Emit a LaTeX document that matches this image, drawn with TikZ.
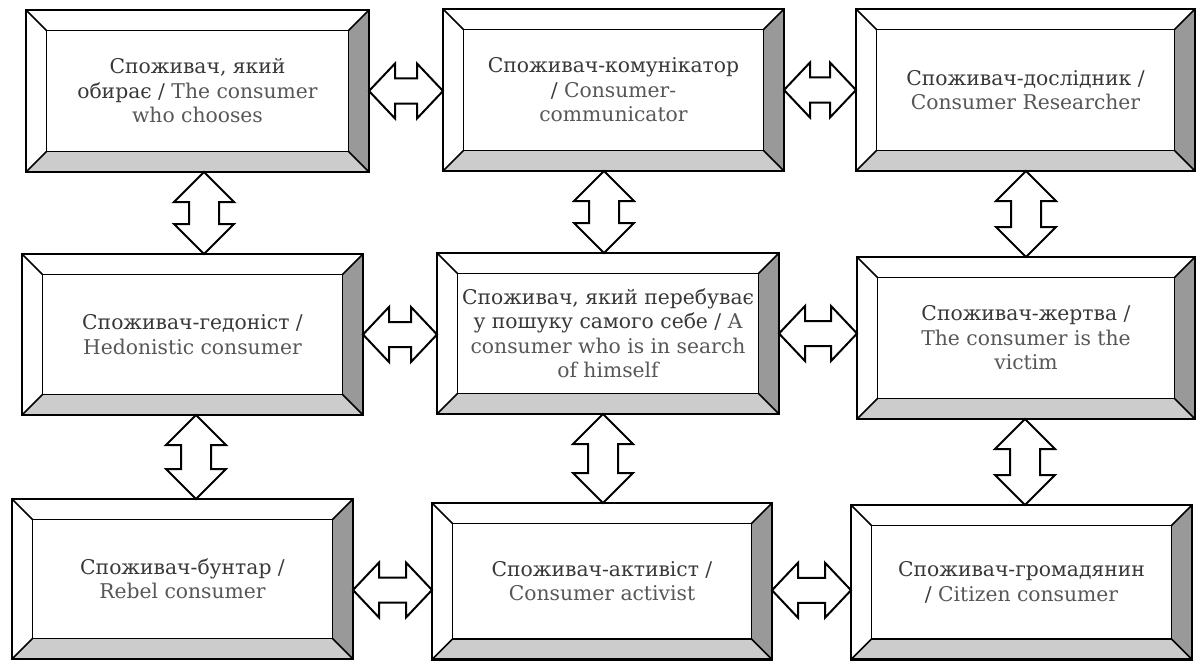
\documentclass[tikz,border=0pt]{standalone}
\usepackage{fontspec}
\setmainfont{DejaVu Serif}
\usetikzlibrary{calc}

\definecolor{uatext}{gray}{0.22}
\definecolor{entext}{gray}{0.34}
\definecolor{rightbevel}{gray}{0.60}
\definecolor{bottombevel}{gray}{0.80}

\newcommand{\en}[1]{\textcolor{entext}{#1}}
\newcommand{\bevw}{20.5pt}

\tikzset{
  frame/.style={inner sep=0pt, outer sep=0pt},
  outerline/.style={draw=black, line width=2.4pt},
  innerline/.style={draw=black, line width=1.9pt},
  diagline/.style={draw=black, line width=1.6pt},
  boxtext/.style={align=center, text=uatext, inner sep=0pt,
    font=\fontsize{20.3}{24.5}\selectfont},
  blockarrow/.style={draw=black, fill=white, line width=2pt, line join=miter},
}

% bevelled frame: name, left, top, right, bottom, text
\newcommand{\bevelbox}[6]{%
  \path node[frame, minimum width={((#4)-(#2))*1pt}, minimum height={((#5)-(#3))*1pt}]
    (#1) at ({((#2)+(#4))/2},{((#3)+(#5))/2}) {};
  \fill[white] (#1.north west) rectangle (#1.south east);
  \fill[rightbevel] (#1.north east) -- (#1.south east)
    -- ($(#1.south east)+(-\bevw,\bevw)$) -- ($(#1.north east)+(-\bevw,-\bevw)$) -- cycle;
  \fill[bottombevel] (#1.south west) -- (#1.south east)
    -- ($(#1.south east)+(-\bevw,\bevw)$) -- ($(#1.south west)+(\bevw,\bevw)$) -- cycle;
  \draw[diagline] (#1.north west) -- ++(\bevw,-\bevw);
  \draw[diagline] (#1.north east) -- ++(-\bevw,-\bevw);
  \draw[diagline] (#1.south west) -- ++(\bevw,\bevw);
  \draw[diagline] (#1.south east) -- ++(-\bevw,\bevw);
  \draw[innerline] ($(#1.north west)+(\bevw,-\bevw)$) rectangle ($(#1.south east)+(-\bevw,\bevw)$);
  \draw[outerline] (#1.north west) rectangle (#1.south east);
  \node[boxtext] (#1-label) at (#1.center) {#6};
}

% horizontal double block arrow: left tip, right tip
\newcommand{\harrow}[2]{%
  \draw[blockarrow] (#1) -- ++(26pt,27.5pt) -- ++(0,-15pt)
    -- ($(#2)+(-26pt,12.5pt)$) -- ++(0,15pt) -- (#2)
    -- ++(-26pt,-27.5pt) -- ++(0,15pt)
    -- ($(#1)+(26pt,-12.5pt)$) -- ++(0,-15pt) -- cycle;
}
% vertical double block arrow: top tip, bottom tip
\newcommand{\varrow}[2]{%
  \draw[blockarrow] (#1) -- ++(30pt,-30pt) -- ++(-15pt,0)
    -- ($(#2)+(15pt,30pt)$) -- ++(15pt,0) -- (#2)
    -- ++(-30pt,30pt) -- ++(15pt,0)
    -- ($(#1)+(-15pt,-30pt)$) -- ++(-15pt,0) -- cycle;
}

\begin{document}
\begin{tikzpicture}[x=1pt, y=-1pt]
  \useasboundingbox (0,0) rectangle (1197,661);
  \clip (0,0) rectangle (1197,661);
  \fill[white] (0,0) rectangle (1197,661);

  % top row
  \bevelbox{chooser}{26}{10}{369}{172}{Споживач, який\\обирає / \en{The consumer}\\\en{who chooses}}
  \bevelbox{communicator}{443}{9}{784}{171}{Споживач-комунікатор\\/ \en{Consumer-}\\\en{communicator}}
  \bevelbox{researcher}{856}{9}{1195}{171}{Споживач-дослідник /\\\en{Consumer Researcher}}
  % middle row
  \bevelbox{hedonist}{22}{254}{363}{415}{Споживач-гедоніст /\\\en{Hedonistic consumer}}
  \bevelbox{seeker}{437}{253}{779}{414}{Споживач, який перебуває\\у пошуку самого себе / \en{A}\\\en{consumer who is in search}\\\en{of himself}}
  \bevelbox{victim}{857}{257}{1195}{419}{Споживач-жертва /\\\en{The consumer is the}\\\en{victim}}
  % bottom row
  \bevelbox{rebel}{12}{499}{353}{659}{Споживач-бунтар /\\\en{Rebel consumer}}
  \bevelbox{activist}{432}{503}{772}{659.5}{Споживач-активіст /\\\en{Consumer activist}}
  \bevelbox{citizen}{851}{505}{1192}{659.5}{Споживач-громадянин\\/ \en{Citizen consumer}}

  % horizontal links
  \harrow{chooser.east}{communicator.west |- chooser.east}
  \harrow{communicator.east}{researcher.west |- communicator.east}
  \harrow{hedonist.east}{seeker.west |- hedonist.east}
  \harrow{seeker.east}{victim.west |- seeker.east}
  \coordinate (rebel-link) at ($(rebel.east)+(0,-11pt)$);
  \harrow{rebel-link}{activist.west |- rebel-link}
  \coordinate (activist-link) at ($(activist.east)+(0,-9pt)$);
  \harrow{activist-link}{citizen.west |- activist-link}

  % vertical links
  \coordinate (chooser-link) at ($(chooser.south)+(6.5pt,0)$);
  \varrow{chooser-link}{chooser-link |- hedonist.north}
  \coordinate (communicator-link) at ($(communicator.south)+(-9.5pt,0)$);
  \varrow{communicator-link}{communicator-link |- seeker.north}
  \coordinate (researcher-link) at ($(researcher.south)+(0.5pt,0)$);
  \varrow{researcher-link}{researcher-link |- victim.north}
  \coordinate (hedonist-link) at ($(hedonist.south)+(3.5pt,0)$);
  \varrow{hedonist-link}{hedonist-link |- rebel.north}
  \coordinate (seeker-link) at ($(seeker.south)+(-5pt,0)$);
  \varrow{seeker-link}{seeker-link |- activist.north}
  \coordinate (victim-link) at ($(victim.south)+(-1pt,0)$);
  \varrow{victim-link}{victim-link |- citizen.north}
\end{tikzpicture}
\end{document}
